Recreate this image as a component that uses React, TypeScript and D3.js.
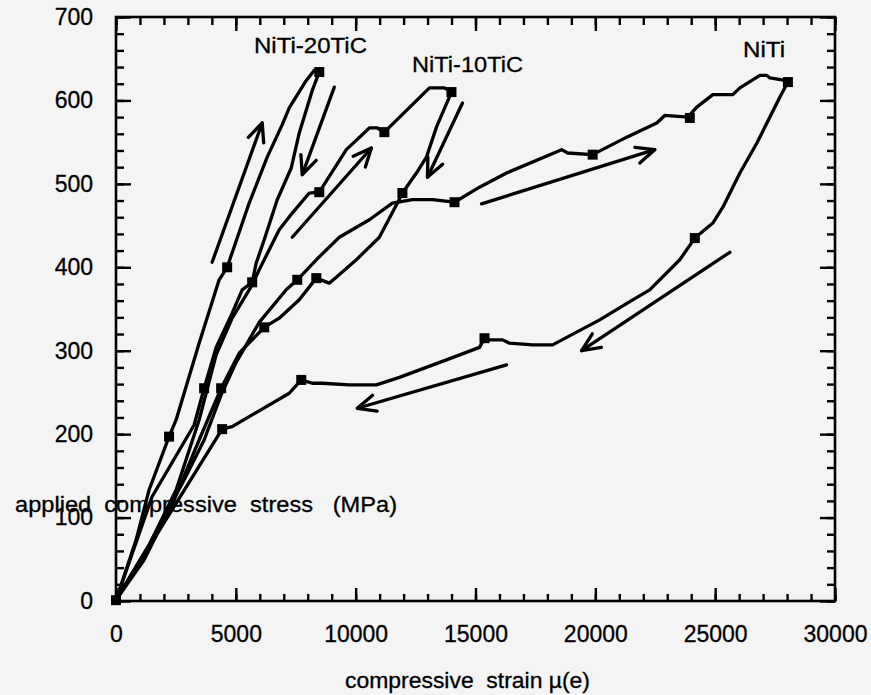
import { useEffect, useRef } from 'react';
import * as d3 from 'd3';

const W = 871, H = 695;

// strain (µe), stress (MPa)
const niti20TiCLoad = [[0,1],[836,73],[1379,133],[2214,197],[2507,217],[3468,309],[4304,385],[4638,400],[5557,477],[6309,532],[6936,571],[7228,591],[7939,624],[8273,636],[8482,634]];
const niti20TiCUnload = [[8482,634],[8189,612],[7646,561],[7312,519],[6727,481],[6184,433],[5850,405],[5682,382],[5265,373],[4847,345],[4178,304],[3677,255],[3259,211],[1504,125],[0,1]];
const niti10TiCLoad = [[0,1],[1379,67],[2507,133],[3468,217],[4178,295],[4847,339],[5682,379],[5975,397],[6811,445],[7354,465],[8064,489],[8482,490],[9610,541],[10571,567],[10905,567],[11198,562],[13078,615],[13705,615],[13997,610]];
const niti10TiCUnload = [[13997,610],[13371,568],[12953,532],[12535,513],[11950,489],[11741,477],[10989,436],[10028,409],[9192,388],[8900,381],[8357,387],[7646,361],[6811,339],[6184,328],[5139,297],[4387,255],[3468,193],[2423,121],[1170,49],[0,1]];
const nitiLoad = [[0,1],[1379,67],[2841,145],[3677,193],[4387,247],[5014,286],[5975,334],[7103,373],[7563,385],[8357,409],[9318,436],[10571,457],[11532,477],[12368,481],[13203,481],[14123,478],[15167,496],[16295,513],[18593,541],[18844,537],[19889,535],[21309,556],[22563,573],[22897,582],[23858,580],[24234,592],[24903,607],[25738,607],[26031,615],[26866,630],[27159,630],[27284,627],[27911,624],[28036,622]];
const nitiUnload = [[28036,622],[27702,604],[26741,549],[26031,513],[25321,472],[24903,453],[24151,435],[23524,409],[22270,373],[21560,361],[20181,337],[18217,307],[17382,307],[16421,309],[16128,313],[15460,313],[15376,315],[15167,304],[13788,289],[11825,268],[10864,259],[9735,259],[8607,261],[8189,261],[7730,265],[7228,249],[4847,209],[4429,206],[0,1]];

const curves = [niti20TiCLoad, niti20TiCUnload, niti10TiCLoad, niti10TiCUnload, nitiLoad, nitiUnload];

// square markers on the curves
const markers = [
  [2214,197],[4638,400],[8482,634],[5682,382],[3677,255],
  [8482,490],[11198,562],[13997,610],[11950,489],[8357,387],[6184,328],[4387,255],
  [7563,385],[14123,478],[19889,535],[23942,579],[28036,622],[24151,435],[15376,315],[7730,265],[4429,206],[0,1]
];

// direction arrows: from -> to (tip)
const arrows = [
  [4011,406,6100,573],
  [9109,616,7772,511],
  [7354,436,10655,543],
  [14457,597,12995,508],
  [15251,476,22480,541],
  [25613,418,19429,300],
  [16295,283,10070,231]
];

const seriesLabels = ['NiTi-20TiC', 'NiTi-10TiC', 'NiTi'];

const xMajor = [0, 5000, 10000, 15000, 20000, 25000, 30000];
const yMajor = [0, 100, 200, 300, 400, 500, 600, 700];
const xMinor = d3.range(0, 30001, 1000);
const yMinor = d3.range(0, 701, 20);

const font = '"Liberation Sans", Arial, Helvetica, sans-serif';

export default function App() {
  const ref = useRef<SVGSVGElement>(null);

  useEffect(() => {
    const svg = d3.select(ref.current);
    svg.selectAll('*').remove();

    svg.append('rect').attr('width', W).attr('height', H).attr('fill', '#f4f4f4');

    const x = d3.scaleLinear().domain([0, 30000]).range([116, 835]);
    const y = d3.scaleLinear().domain([0, 700]).range([601, 17]);

    const styleAxis = (g: any) => {
      g.select('.domain').remove();
      g.selectAll('line').attr('stroke', '#000').attr('stroke-width', 2.4);
      g.selectAll('text').attr('font-family', font).attr('font-size', 23).attr('fill', '#000')
        .attr('stroke', '#000').attr('stroke-width', 0.3);
    };
    const blank = () => '';

    // bottom
    svg.append('g').attr('transform', `translate(0,${y(0)})`)
      .call(d3.axisBottom(x).tickValues(xMinor).tickSize(-7).tickFormat(blank)).call(styleAxis);
    svg.append('g').attr('transform', `translate(0,${y(0)})`)
      .call(d3.axisBottom(x).tickValues(xMajor).tickSize(-13).tickPadding(25).tickFormat(d3.format('d'))).call(styleAxis);
    // top
    svg.append('g').attr('transform', `translate(0,${y(700)})`)
      .call(d3.axisTop(x).tickValues(xMinor).tickSize(-8).tickFormat(blank)).call(styleAxis);
    svg.append('g').attr('transform', `translate(0,${y(700)})`)
      .call(d3.axisTop(x).tickValues(xMajor).tickSize(-14).tickFormat(blank)).call(styleAxis);
    // left
    svg.append('g').attr('transform', `translate(${x(0)},0)`)
      .call(d3.axisLeft(y).tickValues(yMinor).tickSize(-8).tickFormat(blank)).call(styleAxis);
    svg.append('g').attr('transform', `translate(${x(0)},0)`)
      .call(d3.axisLeft(y).tickValues(yMajor).tickSize(-15).tickPadding(23).tickFormat(d3.format('d'))).call(styleAxis);
    // right
    svg.append('g').attr('transform', `translate(${x(30000)},0)`)
      .call(d3.axisRight(y).tickValues(yMinor).tickSize(-8).tickFormat(blank)).call(styleAxis);
    svg.append('g').attr('transform', `translate(${x(30000)},0)`)
      .call(d3.axisRight(y).tickValues(yMajor).tickSize(-15).tickFormat(blank)).call(styleAxis);

    // frame
    svg.append('rect')
      .attr('x', x(0)).attr('y', y(700))
      .attr('width', x(30000) - x(0)).attr('height', y(0) - y(700))
      .attr('fill', 'none').attr('stroke', '#000').attr('stroke-width', 2.6);

    const line = d3.line<number[]>().x(d => x(d[0])).y(d => y(d[1]));

    svg.append('g').selectAll('path').data(curves).enter().append('path')
      .attr('d', d => line(d))
      .attr('fill', 'none').attr('stroke', '#000').attr('stroke-width', 3.3)
      .attr('stroke-linejoin', 'round').attr('stroke-linecap', 'round');

    svg.append('g').selectAll('rect').data(markers).enter().append('rect')
      .attr('x', d => x(d[0]) - 5).attr('y', d => y(d[1]) - 5)
      .attr('width', 10).attr('height', 10).attr('fill', '#000');

    // arrows
    const ag = svg.append('g').attr('fill', 'none').attr('stroke', '#000')
      .attr('stroke-width', 3.3).attr('stroke-linecap', 'round').attr('stroke-linejoin', 'round');
    arrows.forEach(a => {
      const x1 = x(a[0]), y1 = y(a[1]), x2 = x(a[2]), y2 = y(a[3]);
      ag.append('line').attr('x1', x1).attr('y1', y1).attr('x2', x2).attr('y2', y2);
      const ang = Math.atan2(y2 - y1, x2 - x1);
      const L = 20, th = 0.42;
      const w1 = [x2 - L * Math.cos(ang - th), y2 - L * Math.sin(ang - th)];
      const w2 = [x2 - L * Math.cos(ang + th), y2 - L * Math.sin(ang + th)];
      ag.append('polyline').attr('points', `${w1[0]},${w1[1]} ${x2},${y2} ${w2[0]},${w2[1]}`);
    });

    const txt = (s: string, tx: number, ty: number, len: number) =>
      svg.append('text').attr('x', tx).attr('y', ty)
        .attr('font-family', font).attr('font-size', 22).attr('fill', '#000')
        .attr('stroke', '#000').attr('stroke-width', 0.3)
        .style('white-space', 'pre')
        .attr('textLength', len).attr('lengthAdjust', 'spacingAndGlyphs').text(s);

    txt(seriesLabels[0], 254, 53, 113);
    txt(seriesLabels[1], 412, 72, 111);
    txt(seriesLabels[2], 743, 57, 42);

    txt('applied  compressive  stress   (MPa)', 15, 512, 382);
    txt('compressive  strain µ(e)', 345, 688, 245);
  }, []);

  return (
    <svg ref={ref} width={W} height={H}
      style={{ position: 'absolute', left: 0, top: 0, display: 'block' }} />
  );
}
